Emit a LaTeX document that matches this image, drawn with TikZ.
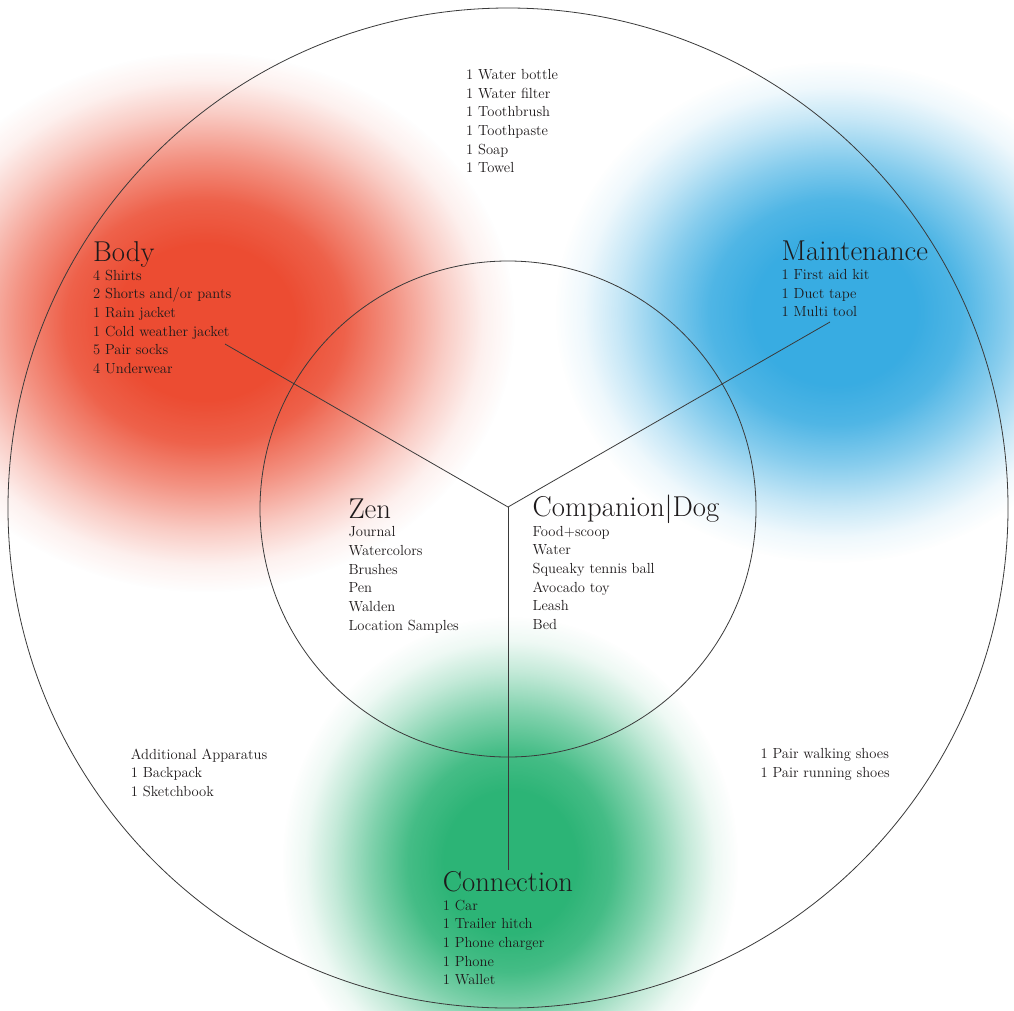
\documentclass[tikz,border=0pt]{standalone}
\usetikzlibrary{fadings}
\definecolor{ink}{HTML}{1E1A1B}
\definecolor{linegray}{HTML}{3A3A3A}
\definecolor{blobred}{RGB}{236,76,50}
\definecolor{blobblue}{RGB}{56,172,226}
\definecolor{blobgreen}{RGB}{44,180,118}
\pgfdeclareradialshading{blobshade}{\pgfpointorigin}{color(0bp)=(white); color(7bp)=(white); color(11bp)=(white!88!black); color(15bp)=(white!60!black); color(19bp)=(white!28!black); color(22bp)=(white!8!black); color(24.5bp)=(black); color(50bp)=(black)}
\pgfdeclarefading{blob}{\pgfuseshading{blobshade}}
\tikzset{
  ring/.style={draw=linegray, line width=0.8pt},
  spoke/.style={draw=linegray, line width=0.8pt},
  head/.style={anchor=base west, inner sep=0pt, text=ink, font=\fontsize{28.7}{32}\selectfont},
  items/.style={anchor=base west, inner sep=0pt, align=left, text=ink, font=\fontsize{14.6}{18.7}\selectfont},
}
\begin{document}
\begin{tikzpicture}[x=1pt,y=-1pt]
\useasboundingbox (0,0) rectangle (1014,1010);
\fill[white] (0,0) rectangle (1014,1010);
% colour blobs
\fill[blobred, path fading=blob] (205,322) ellipse [x radius=315, y radius=275];
\fill[blobblue, path fading=blob] (835,312) ellipse [x radius=285, y radius=255];
\fill[blobgreen, path fading=blob] (510,862) ellipse [x radius=232, y radius=250];
% circles
\draw[ring] (508,508) circle [radius=500];
\draw[ring] (508,509) circle [radius=248];
% spokes
\coordinate (hub) at (508,507);
\coordinate (endbody) at (225,344);
\coordinate (endmaint) at (830,322);
\coordinate (endconn) at (508,870);
\draw[spoke] (endbody) -- (hub) -- (endmaint);
\draw[spoke] (hub) -- (endconn);
% texts (multi-line nodes: base = baseline of last line)
\node[items] (hygiene) at (466,172.8) {1 Water bottle\\1 Water filter\\1 Toothbrush\\1 Toothpaste\\1 Soap\\1 Towel};
\node[head] (bodyh) at (93,261.5) {Body};
\node[items] (bodyl) at (93,373.5) {4 Shirts\\2 Shorts and/or pants\\1 Rain jacket\\1 Cold weather jacket\\5 Pair socks\\4 Underwear};
\node[head] (mainth) at (781.5,260.7) {Maintenance};
\node[items] (maintl) at (781.5,316.7) {1 First aid kit\\1 Duct tape\\1 Multi tool};
\node[head] (zenh) at (348.3,518) {Zen};
\node[items] (zenl) at (348.3,630.2) {Journal\\Watercolors\\Brushes\\Pen\\Walden\\Location Samples};
\node[head] (comph) at (532.5,516.7) {Companion\textbar Dog};
\node[items] (compl) at (532.5,629.5) {Food+scoop\\Water\\Squeaky tennis ball\\Avocado toy\\Leash\\Bed};
\node[items] (addl) at (130.7,796.4) {Additional Apparatus\\1 Backpack\\1 Sketchbook};
\node[items] (shoes) at (760.5,777) {1 Pair walking shoes\\1 Pair running shoes};
\node[head] (connh) at (442.7,891.7) {Connection};
\node[items] (connl) at (442.7,984.8) {1 Car\\1 Trailer hitch\\1 Phone charger\\1 Phone\\1 Wallet};
\end{tikzpicture}
\end{document}
